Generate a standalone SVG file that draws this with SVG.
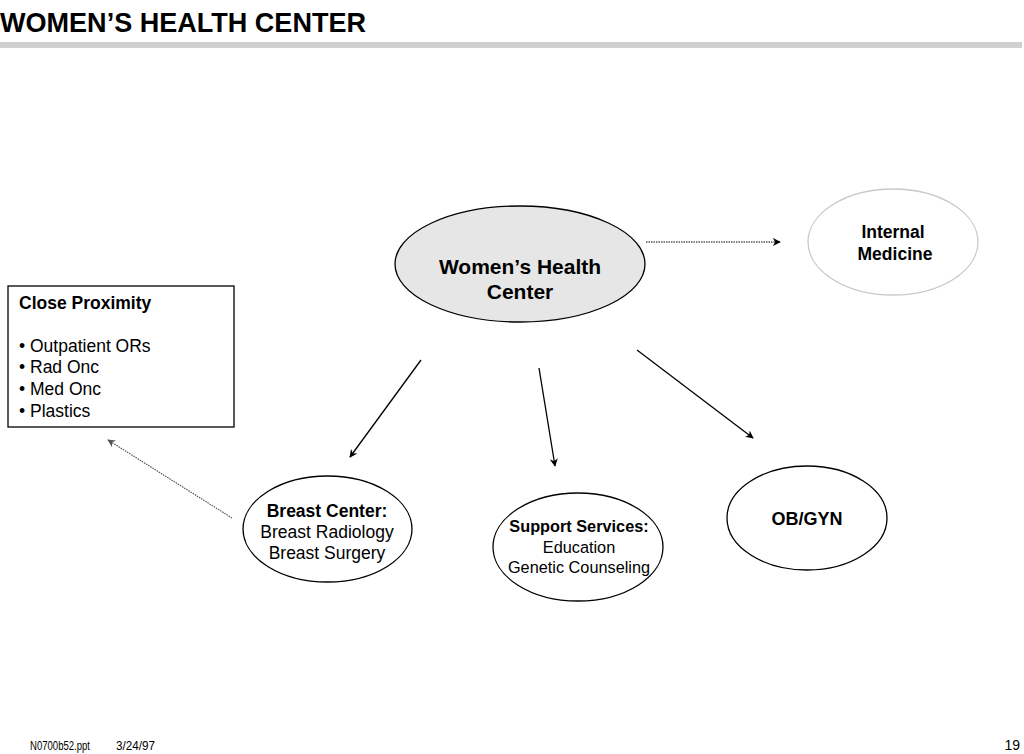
<svg xmlns="http://www.w3.org/2000/svg" width="1024" height="754" viewBox="0 0 1024 754">
<style>
text{font-family:"Liberation Sans",Arial,sans-serif;fill:#000}
.b{font-weight:bold}
.c{text-anchor:middle}
.node{stroke:#000;stroke-width:1.3;fill:#fff}
.solid{stroke:#000;stroke-width:1.3;fill:none}
.dot{stroke:#000;stroke-width:1.2;fill:none;stroke-dasharray:1.5 1}
.dotg{stroke:#555;stroke-width:1.2;fill:none;stroke-dasharray:1.5 1}
</style>
<defs>
<marker id="ah" viewBox="0 0 10 10" refX="9" refY="5" markerWidth="8" markerHeight="8" markerUnits="userSpaceOnUse" orient="auto">
<path d="M0,0 L10,5 L0,10 L3,5 Z" fill="#000"/>
</marker>
<marker id="ahg" viewBox="0 0 10 10" refX="9" refY="5" markerWidth="8" markerHeight="8" markerUnits="userSpaceOnUse" orient="auto">
<path d="M0,0 L10,5 L0,10 L3,5 Z" fill="#555"/>
</marker>
</defs>
<rect width="1024" height="754" fill="#fff"/>
<g id="header">
<text x="0" y="32" class="b" font-size="28" textLength="366" lengthAdjust="spacingAndGlyphs">WOMEN’S HEALTH CENTER</text>
<rect x="0" y="42" width="1022" height="6" fill="#d0d0d0"/>
</g>
<g id="connectors">
<line class="dot" x1="646" y1="242" x2="780" y2="242" marker-end="url(#ah)"/>
<line class="dotg" x1="232" y1="518" x2="108" y2="440" marker-end="url(#ahg)"/>
<line class="solid" x1="421" y1="360" x2="350" y2="457" marker-end="url(#ah)"/>
<line class="solid" x1="539" y1="368" x2="555" y2="466" marker-end="url(#ah)"/>
<line class="solid" x1="637" y1="350" x2="753" y2="438" marker-end="url(#ah)"/>
</g>
<g id="womens-health-center">
<ellipse cx="520" cy="264" rx="125" ry="58" fill="#e6e6e6" stroke="#000" stroke-width="1.3"/>
<text x="520" y="274" class="b c" font-size="21">Women’s Health</text>
<text x="520" y="299" class="b c" font-size="21">Center</text>
</g>
<g id="internal-medicine">
<ellipse cx="893" cy="242" rx="85" ry="53" fill="#fff" stroke="#c8c8c8" stroke-width="1.3"/>
<text x="893" y="238" class="b c" font-size="17.5">Internal</text>
<text x="895" y="260" class="b c" font-size="17.5">Medicine</text>
</g>
<g id="close-proximity">
<rect x="8" y="286" width="226" height="141" fill="#fff" stroke="#000" stroke-width="1.3"/>
<text x="19" y="309" class="b" font-size="17.5">Close Proximity</text>
<text x="19" y="352" font-size="17.5">• Outpatient ORs</text>
<text x="19" y="373" font-size="17.5">• Rad Onc</text>
<text x="19" y="395" font-size="17.5">• Med Onc</text>
<text x="19" y="417" font-size="17.5">• Plastics</text>
</g>
<g id="breast-center">
<ellipse class="node" cx="327.5" cy="529" rx="84.5" ry="53"/>
<text x="327" y="517" class="b c" font-size="17.5">Breast Center:</text>
<text x="327" y="538" class="c" font-size="17.5">Breast Radiology</text>
<text x="327" y="559" class="c" font-size="17.5">Breast Surgery</text>
</g>
<g id="support-services">
<ellipse class="node" cx="578" cy="547" rx="85" ry="54"/>
<text x="579" y="532" class="b c" font-size="16.3">Support Services:</text>
<text x="579" y="553" class="c" font-size="16.3">Education</text>
<text x="579" y="573" class="c" font-size="16.3">Genetic Counseling</text>
</g>
<g id="ob-gyn">
<ellipse class="node" cx="807" cy="518" rx="80" ry="52"/>
<text x="807" y="525" class="b c" font-size="18">OB/GYN</text>
</g>
<g id="footer">
<text x="30" y="750" font-size="12" textLength="60" lengthAdjust="spacingAndGlyphs">N0700b52.ppt</text>
<text x="116" y="750" font-size="12" textLength="39" lengthAdjust="spacingAndGlyphs">3/24/97</text>
<text x="1020" y="750" font-size="14" text-anchor="end">19</text>
</g>
</svg>
